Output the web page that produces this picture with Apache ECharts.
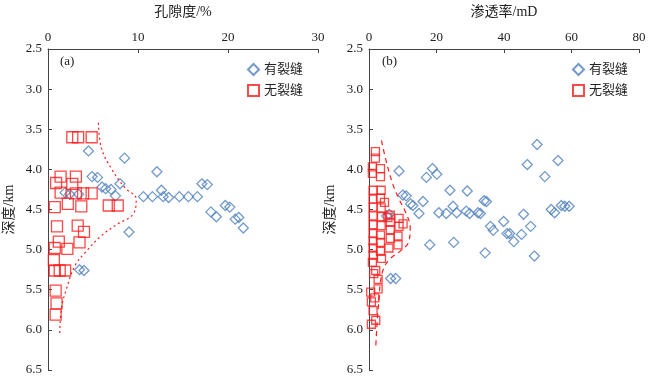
<!DOCTYPE html>
<html>
<head>
<meta charset="utf-8">
<script src="https://cdn.jsdelivr.net/npm/echarts@6/dist/echarts.min.js"></script>
<style>
  html, body { margin: 0; padding: 0; background: #fff; }
  #main { width: 665px; height: 380px; }
</style>
</head>
<body>
<div id="main"></div>
<script>
// 孔隙度 (a): [孔隙度 %, 深度 km]
var poroFrac = [
  [4.5,3.77],[8.5,3.86],[12.1,4.03],[4.9,4.09],[5.5,4.10],[8.0,4.18],[17.1,4.18],[17.7,4.19],
  [6.0,4.22],[6.4,4.24],[7.0,4.25],[12.6,4.26],[7.5,4.33],[1.9,4.29],[3.4,4.31],[2.4,4.31],
  [10.6,4.34],[11.6,4.34],[12.8,4.34],[13.4,4.35],[14.6,4.34],[15.6,4.34],[16.6,4.34],
  [18.1,4.53],[18.7,4.59],[19.7,4.45],[20.2,4.47],[20.8,4.62],[21.2,4.60],[21.7,4.73],
  [9.0,4.78],[3.5,5.25],[4.0,5.26]
];
var poroNoFrac = [
  [2.7,3.60],[3.35,3.60],[4.85,3.60],[1.4,4.09],[3.1,4.09],[0.9,4.17],[2.7,4.18],[1.4,4.29],
  [3.1,4.30],[3.9,4.30],[4.85,4.30],[0.75,4.47],[2.2,4.43],[3.7,4.46],[6.75,4.45],[7.75,4.45],
  [1.0,4.71],[3.3,4.70],[4.0,4.78],[1.2,4.90],[3.5,4.91],[0.75,4.98],[2.15,4.99],[0.65,5.13],
  [0.75,5.26],[1.3,5.26],[1.9,5.26],[0.85,5.51],[0.95,5.67],[0.85,5.81]
];
var poroCurve = [
  [5.6,3.42],[5.95,3.74],[7.1,4.0],[8.55,4.23],[9.8,4.37],[9.5,4.55],[7.6,4.69],[5.8,4.84],
  [4.1,5.04],[3.0,5.2],[2.05,5.49],[1.5,5.73],[1.3,6.07]
];

// 渗透率 (b): [渗透率 mD, 深度 km]
var permFrac = [
  [49.8,3.69],[46.9,3.94],[56.0,3.89],[52.1,4.09],[8.9,4.02],[18.8,3.99],[20.1,4.06],[17.0,4.10],
  [24.0,4.26],[29.1,4.27],[10.0,4.32],[11.0,4.33],[12.3,4.43],[13.0,4.45],[16.0,4.40],[14.8,4.55],
  [20.7,4.54],[22.9,4.55],[24.9,4.46],[26.0,4.54],[28.8,4.52],[29.8,4.55],[32.3,4.54],[33.0,4.55],
  [34.1,4.39],[34.8,4.40],[5.2,4.58],[6.0,4.56],[36.0,4.71],[36.8,4.76],[39.9,4.65],[45.8,4.56],
  [40.9,4.80],[41.7,4.80],[42.9,4.90],[45.2,4.81],[47.9,4.71],[49.0,5.08],[34.4,5.04],[18.0,4.94],
  [25.1,4.91],[54.0,4.50],[55.0,4.54],[57.0,4.45],[58.0,4.46],[59.3,4.46],[6.4,5.36],[7.9,5.36]
];
var permNoFrac = [
  [1.9,3.78],[1.9,3.86],[1.0,3.97],[1.0,4.05],[3.4,3.99],[3.4,4.09],[1.2,4.26],[3.6,4.26],
  [1.2,4.37],[3.4,4.36],[4.6,4.41],[1.2,4.47],[3.6,4.48],[1.2,4.58],[3.7,4.59],[5.6,4.60],
  [6.3,4.57],[1.2,4.69],[3.6,4.70],[6.3,4.66],[6.3,4.75],[8.9,4.61],[10.1,4.68],[8.9,4.71],
  [1.2,4.80],[3.4,4.82],[6.3,4.86],[8.6,4.83],[8.6,4.94],[1.2,4.89],[3.4,4.91],[5.9,4.98],
  [1.2,4.98],[3.4,5.02],[1.2,5.07],[3.7,5.11],[1.0,5.16],[2.0,5.26],[1.4,5.30],[2.7,5.37],
  [2.7,5.49],[0.5,5.53],[1.7,5.60],[0.7,5.65],[1.2,5.76],[2.0,5.88],[0.7,5.93]
];
var permCurve = [
  [3.7,3.64],[5.1,3.90],[7.1,4.19],[8.9,4.37],[11.0,4.55],[12.2,4.72],[11.8,4.90],[9.5,5.01],
  [6.1,5.12],[4.3,5.24],[3.4,5.40],[3.0,5.60],[2.6,5.80],[2.2,6.05],[2.0,6.22]
];

var seriesNames = ['有裂缝', '无裂缝'];
var xNames = ['孔隙度/%', '渗透率/mD'];
var xMax = [30, 80];
var xInterval = [10, 20];

var blue = '#4f81bd';
var red = '#ff1a1a';
var txt = '#222';
var fontFam = '"Liberation Serif", "Noto Sans CJK SC", serif';

var chart = echarts.init(document.getElementById('main'));

function xAxisOf(i) {
  return {
    type: 'value', gridIndex: i, position: 'top',
    min: 0, max: xMax[i], interval: xInterval[i],
    name: xNames[i], nameLocation: 'middle', nameGap: 30,
    nameTextStyle: { color: txt, fontSize: 14, fontFamily: fontFam },
    axisLine: { lineStyle: { color: '#444', width: 1 } },
    axisTick: { inside: true, length: 4, lineStyle: { color: '#444' } },
    axisLabel: { color: txt, fontSize: 13, fontFamily: fontFam, margin: 5 },
    splitLine: { show: false }
  };
}
function yAxisOf(i) {
  return {
    type: 'value', gridIndex: i, inverse: true,
    min: 2.5, max: 6.5, interval: 0.5,
    name: '深度/km', nameLocation: 'middle', nameGap: 32,
    nameTextStyle: { color: txt, fontSize: 14, fontFamily: fontFam },
    axisLine: { show: true, lineStyle: { color: '#444', width: 1 } },
    axisTick: { show: true, inside: true, length: 4, lineStyle: { color: '#444' } },
    axisLabel: { color: txt, fontSize: 13, fontFamily: fontFam, margin: 6,
      formatter: function (v) { return v.toFixed(1); } },
    splitLine: { show: false }
  };
}
function scatterOf(name, i, data, sym, size, color) {
  return {
    name: name, type: 'scatter', xAxisIndex: i, yAxisIndex: i,
    symbol: sym, symbolSize: size, data: data,
    itemStyle: { color: 'rgba(255,255,255,0)', borderColor: color, borderWidth: 1.3 }
  };
}
function curveOf(i, data, dash) {
  return {
    type: 'line', xAxisIndex: i, yAxisIndex: i, data: data,
    smooth: 0.4, showSymbol: false, silent: true,
    lineStyle: { color: red, width: 1.2, type: dash }
  };
}
function legendOf(left) {
  return {
    data: seriesNames, orient: 'vertical', left: left, top: 58,
    itemWidth: 11, itemHeight: 11, itemGap: 8,
    textStyle: { color: txt, fontSize: 13, fontFamily: fontFam }
  };
}

chart.setOption({
  backgroundColor: '#fff',
  animation: false,
  grid: [
    { left: 48, top: 41.5, width: 270, bottom: 10 },
    { left: 369, top: 41.5, width: 270, bottom: 10 }
  ],
  xAxis: [xAxisOf(0), xAxisOf(1)],
  yAxis: [yAxisOf(0), yAxisOf(1)],
  legend: [legendOf(242), legendOf(567)],
  graphic: [
    { type: 'text', left: 60, top: 55, style: { text: '(a)', fill: txt, font: '13px ' + fontFam } },
    { type: 'text', left: 382, top: 55, style: { text: '(b)', fill: txt, font: '13px ' + fontFam } }
  ],
  series: [
    curveOf(0, poroCurve, [2, 3]),
    scatterOf(seriesNames[0], 0, poroFrac, 'diamond', 10, blue),
    scatterOf(seriesNames[1], 0, poroNoFrac, 'rect', 11, red),
    curveOf(1, permCurve, [5, 4]),
    scatterOf(seriesNames[0], 1, permFrac, 'diamond', 10, blue),
    scatterOf(seriesNames[1], 1, permNoFrac, 'rect', 8, red)
  ]
});
</script>
</body>
</html>
